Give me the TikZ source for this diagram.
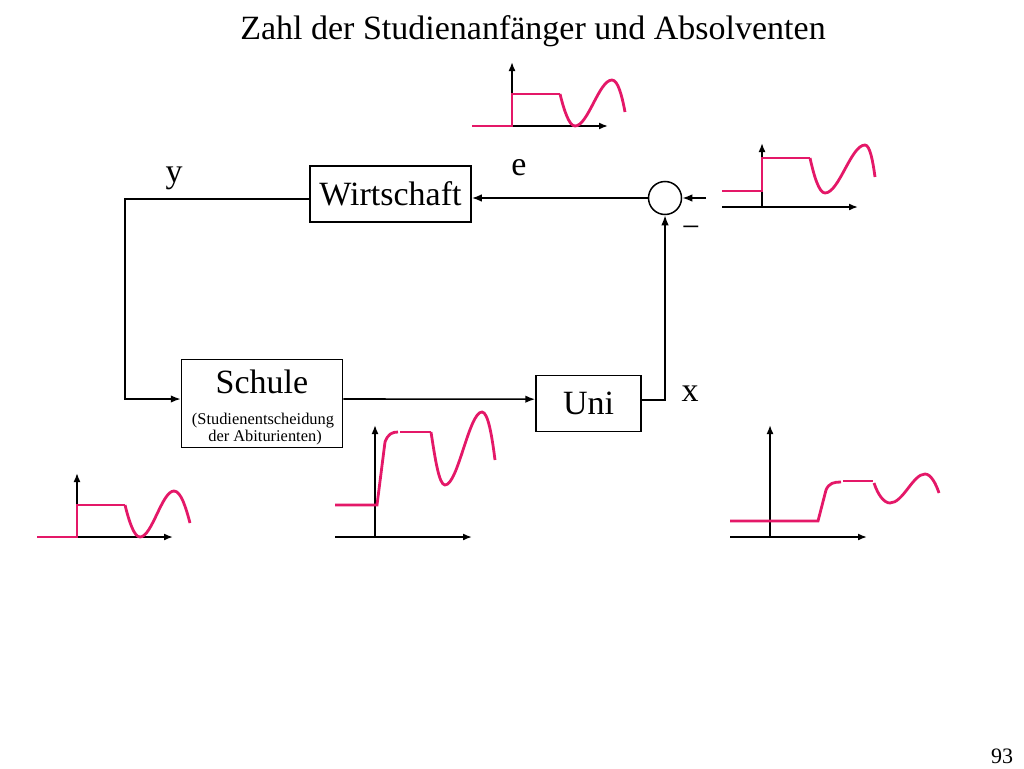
\documentclass[tikz,border=0pt]{standalone}
\usepackage{fontspec}
\setmainfont{Liberation Serif}
\usetikzlibrary{arrows.meta}
\definecolor{pinkc}{RGB}{228,24,104}
\begin{document}
\begin{tikzpicture}[x=1pt,y=-1pt,
  blk/.style={draw, line width=1.5pt, inner sep=0pt},
  conn/.style={line width=1.6pt, -{Latex[length=10pt,width=7.5pt]}},
  axis/.style={line width=1.7pt, -{Latex[length=9pt,width=7pt]}},
  sig/.style={pinkc, line width=2.8pt},
  big/.style={font=\fontsize{34}{40}\selectfont},
  small/.style={font=\fontsize{16.4}{19}\selectfont},
]
\useasboundingbox (0,0) rectangle (1024,768);
\fill[white] (0,0) rectangle (1024,768);

% title
\node[big, anchor=base] (title) at (533,40) {Zahl der Studienanfänger und Absolventen};

% blocks
\node[blk, big, minimum width=161pt, minimum height=56pt] (wirt) at (390.5,194) {Wirtschaft};
\node[blk, minimum width=161pt, minimum height=88pt] (schule) at (262,403.5) {};
\node[big, anchor=base] (schuleT) at (262,393) {Schule};
\node[small, anchor=base] (schuleS1) at (263,424) {(Studienentscheidung};
\node[small, anchor=base] (schuleS2) at (265,441) {der Abiturienten)};
\node[blk, big, minimum width=105pt, minimum height=56pt] (uni) at (588.5,403.7) {Uni};
\node[draw, circle, line width=1.5pt, minimum size=33pt, inner sep=0pt] (sum) at (665,198) {};

% labels
\node[big, anchor=base] (ly) at (174,182) {y};
\node[big, anchor=base] (le) at (519,175) {e};
\node[big, anchor=base] (lx) at (690,401) {x};
\node[font=\fontsize{32}{36}\selectfont, anchor=base] (lminus) at (691,237) {−};
\node[font=\fontsize{22}{26}\selectfont, anchor=base] (page) at (1002,763) {93};

% connectors
\coordinate (in) at (706,198);
\coordinate (fb) at (125,199);
\draw[conn] (sum.west) -- (sum.west -| wirt.east);
\draw[conn] (in) -- (sum.east);
\draw[conn] (wirt.west |- fb) -- (fb) |- ([yshift=4.5pt]schule.west);
\draw[conn] ([yshift=4.5pt]schule.east) -- ([yshift=4.5pt]uni.west);
\draw[conn] ([yshift=4pt]uni.east) -| (sum.south);

% plot 1 (top, e)
\draw[axis] (512,126) -- (512,62);
\draw[axis] (512,126) -- (608,126);
\draw[sig] (472,126) -- (512,126) -- (512,94) -- (560,94);
\draw[sig] (560,94) .. controls (564,110) and (569,126) .. (575,126)
  .. controls (588,126) and (599,80) .. (612,80)
  .. controls (618,80) and (622,96) .. (625,112);

% plot 2 (right, input)
\draw[axis] (762,207) -- (762,143);
\draw[axis] (722,207) -- (858,207);
\draw[sig] (722,191) -- (762,191) -- (762,158) -- (810,158);
\draw[sig] (810,158) .. controls (814,176) and (819,193) .. (825,193)
  .. controls (839,193) and (851,145) .. (865,145)
  .. controls (870,145) and (873,162) .. (875,177);

% plot 3 (bottom left)
\draw[axis] (77,537) -- (77,473);
\draw[axis] (77,537) -- (173,537);
\draw[sig] (37,537) -- (77,537) -- (77,505) -- (125,505);
\draw[sig] (125,505) .. controls (129,521) and (134,537) .. (140,537)
  .. controls (152,537) and (162,491) .. (174,491)
  .. controls (181,491) and (186,508) .. (190,523);

% plot 4 (bottom middle)
\draw[axis] (375,537) -- (375,425);
\draw[axis] (335,537) -- (472,537);
\draw[sig] (335,505) -- (377,505) -- (385,442) .. controls (388,434) and (392,432) .. (398,432);
\draw[sig] (400,432) -- (431,432);
\draw[sig] (431,432) .. controls (435,458) and (439,485) .. (445,485)
  .. controls (458,485) and (469,412) .. (482,412)
  .. controls (488,412) and (492,436) .. (495,460);

% plot 5 (bottom right)
\draw[axis] (770,537) -- (770,425);
\draw[axis] (730,537) -- (867,537);
\draw[sig] (730,521) -- (818,521) -- (826,490) .. controls (829,483) and (834,482) .. (841,482);
\draw[sig] (843,481) -- (873,481);
\draw[sig] (874,483) .. controls (878,495) and (884,503) .. (890,503)
  .. controls (903,503) and (913,474) .. (925,474)
  .. controls (931,474) and (936,484) .. (939,493);
\end{tikzpicture}
\end{document}
